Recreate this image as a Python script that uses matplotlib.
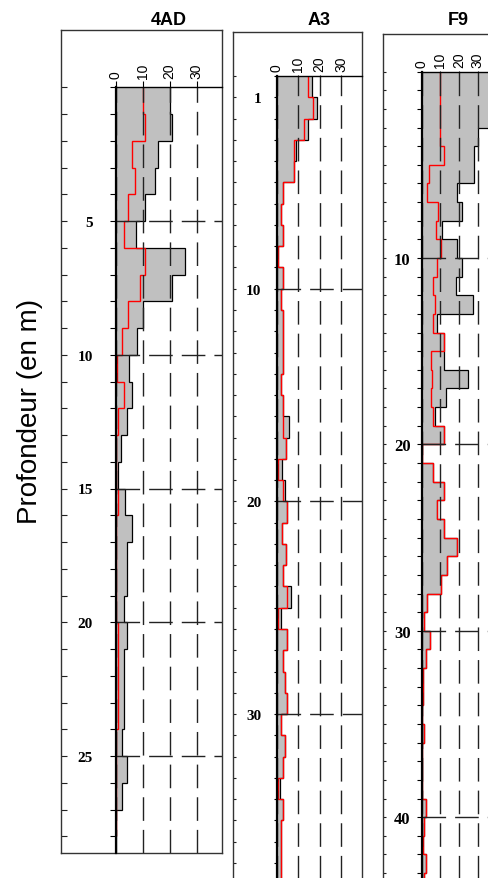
import matplotlib
matplotlib.use("Agg")
import matplotlib.pyplot as plt
from matplotlib.ticker import FixedLocator, NullFormatter
import numpy as np

W, H = 488, 879

# ---------------- data ----------------
titles = ["4AD", "A3", "F9"]
x_ticks = [0, 10, 20, 30]
x_max = 39.5
y_axis_label = "Profondeur (en m)"

# values per 1 m depth interval (from 0 m downward)
grey_4AD = [20, 21, 15.7, 14.7, 11, 7.7, 25.5, 21, 10.2, 8, 4.9, 5.9, 4.3, 1.8,
            1, 3.4, 5.9, 4.3, 4.3, 3.2, 4.3, 3.2, 3.2, 3.2, 2.2, 4.3, 2.2, 0]
red_4AD = [10, 11, 6.1, 7.1, 4.4, 3.2, 11, 9, 4.4, 2.2, 0.4, 3.2, 1, 0,
           0, 1, 0, 0, 0, 0, 1, 1, 1, 1, 0, 0, 0, 0]
depth_labels_4AD = [5, 10, 15, 20, 25]
grid_depths_4AD = [5, 10, 15, 20, 25]

grey_A3 = [16.6, 18.6, 14.7, 8.8, 8.1, 2.8, 2, 3.1, 0.5, 2.8, 2, 2.8, 2.8, 2.8,
           2, 2.8, 5.9, 4.3, 2.6, 3.9, 4.7, 2.6, 4.3, 3.1, 6.7, 2, 4.7, 2.8,
           3.9, 4.7, 2, 3.9, 2.8, 1.6, 2.8, 2, 2, 2]
red_A3 = [14.7, 17, 12.9, 8.1, 8.1, 2.8, 2, 3.1, 0.5, 2.8, 2, 2.8, 2.8, 2.8,
          2, 2.8, 3.1, 4.3, 0.8, 3.1, 4.7, 2.6, 4.3, 3.1, 4.7, 0.5, 4.7, 2.8,
          3.9, 4.7, 2, 3.9, 2.8, 0.5, 2.8, 2, 2, 2]
depth_labels_A3 = [1, 10, 20, 30]
grid_depths_A3 = [10, 20, 30]

grey_F9 = [37, 37, 37, 30, 28.2, 28.2, 18.75, 21.8, 11.1, 19.1, 21.8, 18.4, 27.7,
           8, 12, 12, 24.6, 12.9, 7.1, 12, 0, 5.9, 12, 8.4, 12, 19.1, 13.75, 10.4,
           2.7, 1.4, 4.5, 2.5, 0.9, 0.9, 0, 1.2, 0, 0, 0, 2.1, 1.2, 0.9, 2.1, 1.2]
red_F9 = [10, 10, 10, 10, 12, 4.1, 3, 8.6, 7.5, 10.4, 8, 5.9, 7.1,
          5.9, 12, 5, 5.4, 5, 5.9, 12, 0, 5.9, 12, 8.4, 12, 19.1, 13.75, 10.4,
          2.7, 1.4, 4.5, 2.5, 0.9, 0.9, 0, 1.2, 0, 0, 0, 2.1, 1.2, 0.9, 2.1, 1.2]
depth_labels_F9 = [10, 20, 30, 40]
grid_depths_F9 = [10, 20, 30, 40]

# ---------------- layout (pixels) ----------------
layouts = [
    dict(x0=115.7, sx=2.70, y0=88.25, sy=26.75, left=61, top=31, bottom=853.5,
         otick=4.1, itick=4.3, ypad=12, ysize=11, xtick=4.3, xpad=2.3),
    dict(x0=276.7, sx=2.15, y0=77.0, sy=21.27, left=233, top=33, bottom=900,
         otick=2.4, itick=2.4, ypad=8.6, ysize=11, xtick=0.7, xpad=2.9),
    dict(x0=421.7, sx=1.87, y0=72.6, sy=18.64, left=383, top=35, bottom=900,
         otick=2.4, itick=3.6, ypad=4.3, ysize=12, xtick=0.7, xpad=2.6),
]
series = [(grey_4AD, red_4AD, depth_labels_4AD, grid_depths_4AD),
          (grey_A3, red_A3, depth_labels_A3, grid_depths_A3),
          (grey_F9, red_F9, depth_labels_F9, grid_depths_F9)]

SANS = ["Liberation Sans", "DejaVu Sans"]
SERIF = ["Liberation Serif", "DejaVu Serif"]

fig = plt.figure(figsize=(W / 100, H / 100), dpi=100)


def frac(l, t, r, b):
    return [l / W, 1 - b / H, (r - l) / W, (b - t) / H]


for name, (grey, red, dlabels, gdepths), L in zip(titles, series, layouts):
    xr = L["x0"] + x_max * L["sx"]
    dmax = (L["bottom"] - L["y0"]) / L["sy"]
    dtop = (L["top"] - L["y0"]) / L["sy"]
    meters = np.arange(0, int(np.floor(dmax)) + 1)

    # outer frame
    outer = fig.add_axes(frac(L["left"], L["top"], xr, L["bottom"]))
    outer.set_xlim(0, 1)
    outer.set_ylim(dmax, dtop)
    outer.set_xticks([])
    outer.yaxis.set_major_locator(FixedLocator(meters))
    outer.yaxis.set_major_formatter(NullFormatter())
    outer.tick_params(axis="y", direction="in", length=L["otick"], width=0.8,
                      color="#222222")
    for s in outer.spines.values():
        s.set_linewidth(1.0)
        s.set_color("#333333")

    # inner plot
    ax = fig.add_axes(frac(L["x0"], L["y0"], xr, L["bottom"]))
    ax.patch.set_alpha(0)
    ax.set_xlim(0, x_max)
    ax.set_ylim(dmax, 0)
    edges = np.arange(len(grey) + 1)
    ax.stairs(grey, edges, orientation="horizontal", baseline=0, fill=True,
              color="#c0c0c0", zorder=1)
    ax.stairs(grey, edges, orientation="horizontal", baseline=None,
              color="black", lw=0.9, zorder=1.8)
    ax.stairs(red, edges, orientation="horizontal", baseline=None,
              color="#ff0000", lw=1.0, zorder=1.9)

    ax.set_axisbelow(False)
    ax.xaxis.tick_top()
    ax.xaxis.set_major_locator(FixedLocator(x_ticks))
    ax.set_xticklabels([str(v) for v in x_ticks], rotation=90,
                       fontfamily=SANS, fontsize=10)
    ax.yaxis.set_major_locator(FixedLocator(dlabels))
    ax.yaxis.set_minor_locator(FixedLocator(meters))
    ax.set_yticklabels([str(v) for v in dlabels], fontfamily=SERIF,
                       fontweight="bold", fontsize=L["ysize"])
    ax.tick_params(axis="y", which="both", direction="out", length=L["itick"],
                   width=0.8, pad=L["ypad"], color="black")
    ax.tick_params(axis="x", direction="out", length=L["xtick"], width=0.8,
                   pad=L["xpad"])
    ax.grid(True, which="major", color="#222222", lw=1.0,
            linestyle=(0, (17, 6.5)))
    # horizontal dashed lines only at the chosen depths
    for v, t in zip(dlabels, ax.yaxis.get_major_ticks()):
        if v not in gdepths:
            t.gridline.set_visible(False)
    ax.spines["right"].set_visible(False)
    ax.spines["bottom"].set_visible(False)
    ax.spines["left"].set_linewidth(1.6)
    ax.spines["left"].set_zorder(3)
    ax.spines["top"].set_linewidth(1.0)
    ax.spines["top"].set_zorder(3)

    fig.text((L["x0"] + xr) / 2 / W, 1 - 25 / H, name, ha="center",
             va="baseline", fontsize=13, fontweight="bold", fontfamily=SANS)

fig.text(30 / W, 1 - 411.5 / H, y_axis_label, rotation=90, ha="center",
         va="center", fontsize=20, fontfamily=SANS)

fig.savefig("out.png", dpi=100)
